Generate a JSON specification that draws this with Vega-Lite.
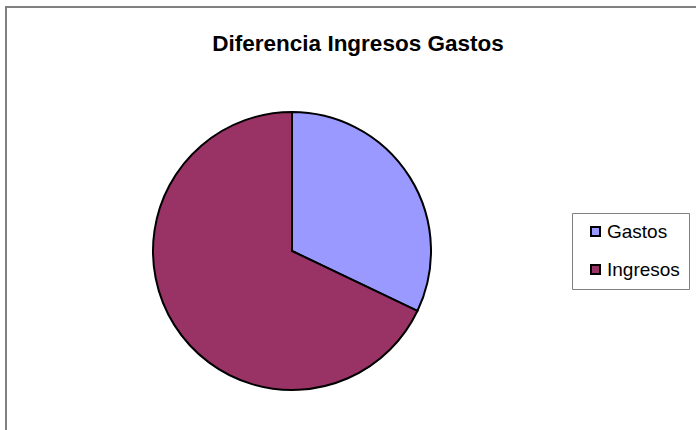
{
  "$schema": "https://vega.github.io/schema/vega-lite/v6.json",
  "autosize": "none",
  "width": 700,
  "height": 440,
  "padding": {"left": 6, "top": 7, "right": 0, "bottom": 0},
  "background": "white",
  "title": {
    "text": "Diferencia Ingresos Gastos",
    "font": "Liberation Sans",
    "fontSize": 22.5,
    "fontWeight": "bold",
    "color": "black",
    "anchor": "middle",
    "baseline": "alphabetic",
    "offset": -67,
    "dx": 2
  },
  "config": {
    "view": {"stroke": null},
    "font": "Liberation Sans"
  },
  "layer": [
    {
      "data": {"values": [{"marco": "borde"}]},
      "mark": {"type": "rect", "fill": null, "stroke": "#808080", "strokeWidth": 2}
    },
    {
      "data": {
        "values": [
          {"categoria": "Gastos", "valor": 32.1},
          {"categoria": "Ingresos", "valor": 67.9}
        ]
      },
      "mark": {
        "type": "arc",
        "outerRadius": 139,
        "x": 286,
        "y": 244,
        "stroke": "black",
        "strokeWidth": 2
      },
      "encoding": {
        "theta": {"field": "valor", "type": "quantitative", "stack": true},
        "order": {"field": "categoria", "sort": "ascending"},
        "color": {
          "field": "categoria",
          "type": "nominal",
          "scale": {"domain": ["Gastos", "Ingresos"], "range": ["#9999FF", "#993366"]},
          "legend": {
            "title": null,
            "orient": "none",
            "legendX": 566,
            "legendY": 206,
            "padding": 9,
            "symbolOffset": 5,
            "strokeColor": "#808080",
            "symbolType": "square",
            "symbolSize": 81,
            "symbolStrokeColor": "black",
            "symbolStrokeWidth": 2,
            "symbolOpacity": 1,
            "labelFontSize": 19,
            "labelFont": "Liberation Sans",
            "labelColor": "black",
            "labelOffset": 2,
            "rowPadding": 18
          }
        }
      }
    }
  ]
}
